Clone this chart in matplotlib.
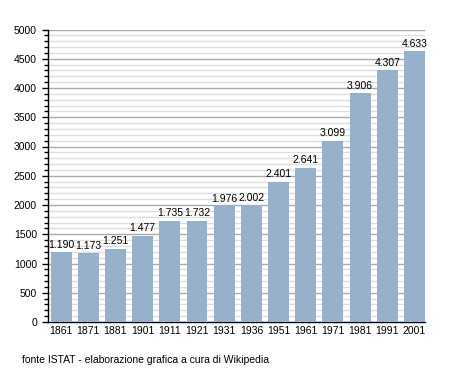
import matplotlib.pyplot as plt
from matplotlib.ticker import MultipleLocator

anni = ['1861', '1871', '1881', '1901', '1911', '1921', '1931', '1936',
        '1951', '1961', '1971', '1981', '1991', '2001']
abitanti = [1190, 1173, 1251, 1477, 1735, 1732, 1976, 2002,
            2401, 2641, 3099, 3906, 4307, 4633]

plt.rcParams['font.family'] = ['Liberation Sans', 'DejaVu Sans']

fig = plt.figure(figsize=(4.53, 3.71), dpi=100)
ax = fig.add_axes([48 / 453, 1 - 322 / 371, (425 - 48) / 453, (322 - 29.5) / 371])

x = range(len(anni))
ax.bar(x, abitanti, width=0.77, color='#98b1cb', zorder=3)

for i, v in enumerate(abitanti):
    lab = '{:,}'.format(v).replace(',', '.')
    ax.text(i, v + 40, lab, ha='center', va='bottom', fontsize=7.5, zorder=4)

ax.set_xlim(-0.48, len(anni) - 1 + 0.385)
ax.set_ylim(0, 5000)
ax.set_xticks(list(x))
ax.set_xticklabels(anni)
ax.yaxis.set_major_locator(MultipleLocator(500))
ax.yaxis.set_minor_locator(MultipleLocator(100))

ax.grid(axis='y', which='major', color='#aaaaaa', linewidth=1, zorder=1)
ax.grid(axis='y', which='minor', color='#dedede', linewidth=1, zorder=0)
ax.set_axisbelow(True)

for s in ['top', 'right']:
    ax.spines[s].set_visible(False)
ax.spines['left'].set_linewidth(1)
ax.spines['bottom'].set_linewidth(1)

ax.tick_params(axis='x', length=0, pad=3, labelsize=7.5)
ax.tick_params(axis='y', which='major', length=4, width=1, pad=4, labelsize=7.5)
ax.tick_params(axis='y', which='minor', length=3, width=1)

fig.text(22 / 453, 1 - 360 / 371, 'fonte ISTAT - elaborazione grafica a cura di Wikipedia',
         fontsize=7.5, va='center', ha='left')

plt.savefig('out.png', dpi=100)
